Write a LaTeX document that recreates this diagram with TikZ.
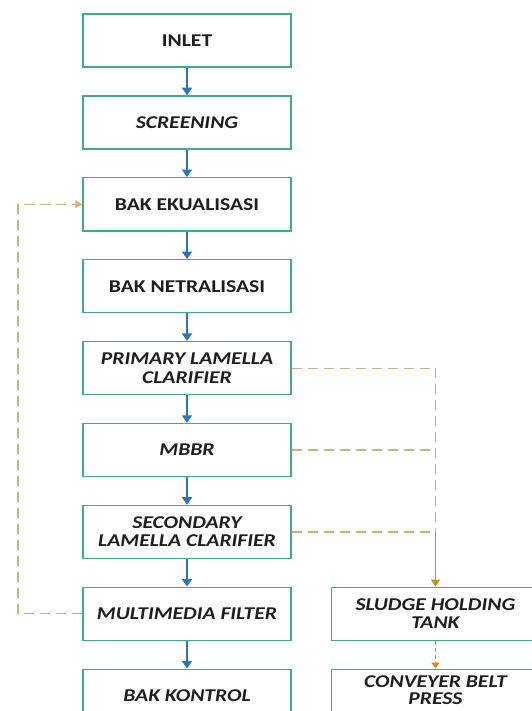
\documentclass[tikz,border=0pt]{standalone}
\usepackage{fontspec}
\setmainfont{Carlito}[FakeStretch=1.2]
\usetikzlibrary{positioning,arrows.meta,calc}
\definecolor{boxgreen}{HTML}{3DAE85}
\definecolor{flowblue}{HTML}{2E75B6}
\definecolor{sludgegold}{HTML}{CDB37A}
\definecolor{sludgeolive}{HTML}{B89A12}
\definecolor{textdark}{HTML}{1E1E1E}

\begin{document}
\begin{tikzpicture}[x=1pt, y=1pt, font=\fontsize{18}{18.5}\selectfont\bfseries,
  procbox/.style={draw=boxgreen, line width=1.4pt, text=textdark, minimum width=208pt, minimum height=53pt, align=center, inner sep=1pt},
  flow/.style={draw=flowblue, line width=2pt, -{Triangle[width=10pt,length=7.5pt]}},
  sludge/.style={draw=sludgegold, line width=1.2pt, dash pattern=on 10pt off 6pt},
  sludgesolid/.style={draw=sludgeolive, line width=1.2pt, -{Triangle[width=9pt,length=7pt]}}]
\useasboundingbox (0,0) rectangle (531,-711);
% main treatment line
\node[procbox] (inlet) at (187,-40.5) {INLET};
\node[procbox, below=27.5pt of inlet] (screen) {\itshape SCREENING};
\node[procbox, below=27.5pt of screen] (ekual) {BAK EKUALISASI};
\node[procbox, below=27.5pt of ekual] (netral) {BAK NETRALISASI};
\node[procbox, below=27.5pt of netral] (primary) {\itshape PRIMARY LAMELLA\\\itshape CLARIFIER};
\node[procbox, below=27.5pt of primary] (mbbr) {\itshape MBBR};
\node[procbox, below=27.5pt of mbbr] (secondary) {\itshape SECONDARY\\\itshape LAMELLA CLARIFIER};
\node[procbox, below=27.5pt of secondary] (multi) {\itshape MULTIMEDIA FILTER};
\node[procbox, below=27.5pt of multi] (kontrol) {\itshape BAK KONTROL};
% sludge line
\node[procbox, right=39pt of multi] (holding) {\itshape SLUDGE HOLDING\\\itshape TANK};
\node[procbox, right=39pt of kontrol] (belt) {\raisebox{3pt}[\height][\depth]{\itshape\begin{tabular}{@{}c@{}}CONVEYER BELT\\[-1.5pt]PRESS\end{tabular}}};
\foreach \a/\b in {inlet/screen, screen/ekual, ekual/netral, netral/primary, primary/mbbr, mbbr/secondary, secondary/multi, multi/kontrol}
  \draw[flow] (\a) -- (\b);
% backwash return
\coordinate (loopx) at (18,0);
\draw[sludge, -{Triangle[width=8pt,length=7pt]}] (multi.west) -- (multi.west -| loopx) |- (ekual.west);
% sludge collection
\draw[sludge] (primary.east) -- (primary.east -| holding.north) -- (secondary.east -| holding.north);
\draw[sludge] (mbbr.east) -- (mbbr.east -| holding.north);
\draw[sludge] (secondary.east) -- (secondary.east -| holding.north);
\draw[sludgesolid] (secondary.east -| holding.north) -- (holding.north);
\draw[sludge, draw=orange!80!brown, dash pattern=on 4pt off 3pt, -{Triangle[width=8pt,length=6pt]}] (holding) -- (belt);
\end{tikzpicture}
\end{document}
